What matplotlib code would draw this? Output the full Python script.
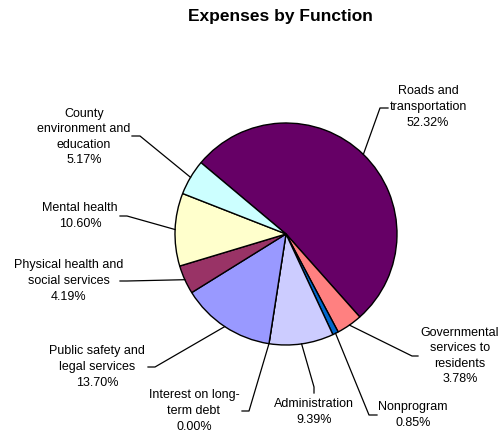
import numpy as np
import matplotlib.pyplot as plt

plt.rcParams['font.family'] = ['Liberation Sans', 'DejaVu Sans']

W, H = 503, 434

# data (clockwise from the top-left boundary)
names = ["Roads and\ntransportation", "Governmental\nservices to\nresidents",
         "Nonprogram", "Administration", "Interest on long-\nterm debt",
         "Public safety and\nlegal services", "Physical health and\nsocial services",
         "Mental health", "County\nenvironment and\neducation"]
values = [52.32, 3.78, 0.85, 9.39, 0.00, 13.70, 4.19, 10.60, 5.17]
colors = ["#660066", "#FF8080", "#0066CC", "#CCCCFF", "#000080",
          "#9999FF", "#993366", "#FFFFCC", "#CCFFFF"]

# label layout in pixel coords: text centre, leader elbow, leader end
text_pos = [(428, 107), (460, 356), (413, 415), (314, 412), (194, 411),
            (97, 367), (69, 281), (80, 216), (84, 137)]
elbow = [(380, 108), (412, 356), (369, 415), (314, 387), (249, 411),
         (155, 367), (127, 281), (127, 216), (140, 136)]
end = [(388, 108), (418, 356), (377, 415), (314, 393), (242, 411),
       (148, 367), (120, 281), (120, 216), (132, 136)]

cx, cy, r = 286, H - 234, 111

fig = plt.figure(figsize=(W / 100, H / 100), dpi=100)
ax = fig.add_axes([0, 0, 1, 1])
wedges, _ = ax.pie(values, colors=colors, startangle=140, counterclock=False,
                   radius=r, center=(cx, cy), normalize=True,
                   wedgeprops=dict(edgecolor='black', linewidth=1.0))
ax.set_xlim(0, W)
ax.set_ylim(0, H)
ax.set_aspect('equal')
ax.axis('off')

for w, nm, v, tp, el, en in zip(wedges, names, values, text_pos, elbow, end):
    a = np.deg2rad((w.theta1 + w.theta2) / 2)
    x0, y0 = cx + r * np.cos(a), cy + r * np.sin(a)
    ax.plot([x0, el[0], en[0]], [y0, H - el[1], H - en[1]], color='black', lw=0.9)
    ax.text(tp[0], H - tp[1], f"{nm}\n{v:.2f}%", ha='center', va='center',
            multialignment='center', fontsize=9, linespacing=1.4)

fig.text(280 / W, 1 - 17 / H, "Expenses by Function", ha='center', va='center',
         fontsize=12.5, fontweight='bold')

fig.savefig('out.png', dpi=100)
plt.close(fig)
